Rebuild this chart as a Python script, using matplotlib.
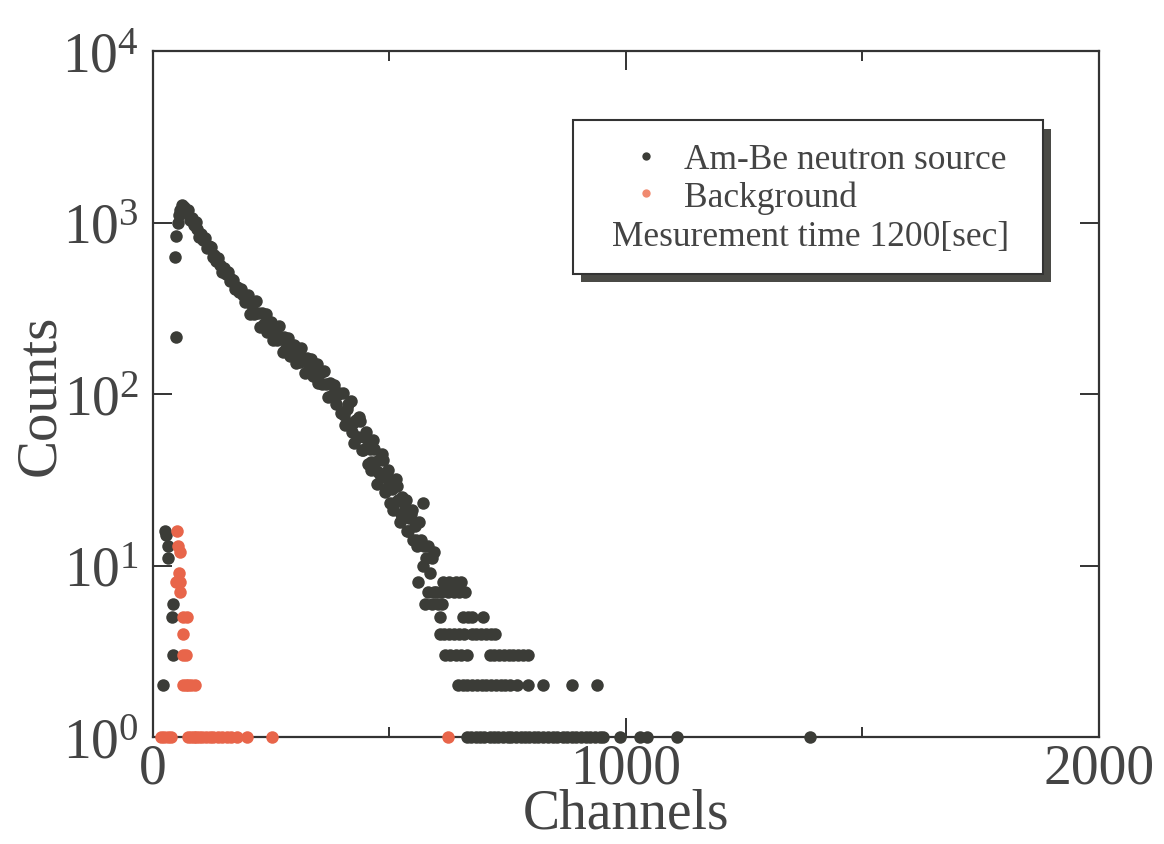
import matplotlib
matplotlib.use("Agg")
import matplotlib.pyplot as plt
import numpy as np
from matplotlib.patches import Rectangle
from matplotlib.lines import Line2D
from matplotlib.ticker import FixedLocator, NullLocator, LogFormatterMathtext

# Am-Be neutron source spectrum (channel, counts)
ambe_ch = [21, 25, 28, 32, 32, 40, 42, 42, 47, 48, 48, 52, 55, 58, 62, 64, 66, 70,
           74, 78, 82, 86, 90, 94, 98, 102, 106, 110, 114, 118, 122, 126, 130, 134,
           138, 142, 146, 150, 154, 158, 162, 166, 170, 174, 178, 182, 186, 190, 194,
           198, 202, 206, 210, 214, 218, 222, 226, 230, 234, 238, 242, 246, 250, 254,
           258, 262, 266, 270, 274, 278, 282, 286, 290, 294, 298, 302, 306, 310, 314,
           318, 322, 326, 330, 334, 338, 342, 346, 350, 354, 358, 362, 366, 370, 374,
           378, 382, 386, 390, 394, 398, 402, 406, 410, 414, 418, 422, 426, 430, 434,
           438, 442, 446, 450, 454, 458, 462, 466, 470, 474, 478, 482, 486, 490, 494,
           498, 502, 506, 510, 514, 518, 522, 526, 530, 534, 538, 542, 546, 550, 554,
           558, 562, 566, 570, 571, 574, 578, 582, 586, 590, 594, 598,
           404, 412, 420, 428, 436, 444, 452, 460, 468, 476, 484, 492, 500, 508, 516,
           524, 532, 540, 548, 556]
ambe_counts = [2, 16, 15, 13, 11, 5, 6, 3, 630, 216, 830, 1000, 1100, 1180, 1260, 1150, 1240, 1190,
               1190, 1041, 1057, 970, 1012, 912, 819, 861, 788, 812, 713, 729, 716, 629, 643, 594,
               624, 567, 513, 541, 498, 516, 456, 468, 463, 409, 420, 391, 412, 377, 343,
               363, 376, 292, 332, 291, 348, 295, 246, 297, 257, 293, 230, 257, 264, 206,
               235, 206, 248, 211, 177, 214, 185, 213, 167, 188, 194, 151, 173, 153, 185,
               157, 132, 162, 140, 161, 127, 144, 149, 116, 132, 114, 137, 115, 96, 116,
               99, 113, 88, 99, 101, 78, 102, 66, 82, 68, 91, 68, 52, 71, 56,
               70, 47, 56, 60, 39, 48, 40, 54, 40, 30, 41, 33, 41, 27, 33,
               36, 23, 28, 23, 32, 24, 18, 25, 20, 24, 16, 19, 20, 14, 17,
               13, 18, 14, 10, 23, 13, 11, 13, 9, 11, 12, 7,
               75, 87, 60, 70, 73, 47, 49, 36, 48, 35, 45, 28, 30, 21, 29,
               20, 22, 16, 21, 14]

# tail of the spectrum, low integer counts
tail_ch = [560, 613, 625, 640, 652,
           582, 595, 610, 624, 636, 648, 660,
           576, 590, 603, 612,
           607, 656, 666, 674, 698,
           607, 616, 626, 636, 646, 658, 674, 684, 694, 704, 714, 723,
           617, 628, 640, 652, 663, 712, 722, 732, 742, 752, 762, 772, 782, 793,
           645, 655, 665, 675, 685, 695, 705, 715, 725, 735, 745, 755, 769, 793, 825, 886, 939,
           663, 672, 682, 692, 700, 712, 720, 730, 740, 750, 758, 768, 778, 786, 796, 806,
           815, 825, 835, 845, 855, 866, 876, 886, 895, 905, 915, 925, 935, 945, 951,
           987, 1030, 1044, 1108, 1389]
tail_counts = [8, 8, 8, 8, 8,
               7, 7, 7, 7, 7, 7, 7,
               6, 6, 6, 6,
               5, 5, 5, 5, 5,
               4, 4, 4, 4, 4, 4, 4, 4, 4, 4, 4, 4,
               3, 3, 3, 3, 3, 3, 3, 3, 3, 3, 3, 3, 3, 3,
               2, 2, 2, 2, 2, 2, 2, 2, 2, 2, 2, 2, 2, 2, 2, 2, 2,
               1, 1, 1, 1, 1, 1, 1, 1, 1, 1, 1, 1, 1, 1, 1, 1,
               1, 1, 1, 1, 1, 1, 1, 1, 1, 1, 1, 1, 1, 1, 1,
               1, 1, 1, 1, 1]

# background measurement
bg_ch = [51, 54, 57, 55, 48, 58, 58, 63, 72, 63, 63, 70, 63, 69, 75, 81, 89,
         17, 24, 31, 38, 74, 80, 86, 92, 98, 104, 112, 120, 128, 138, 146, 156, 166,
         178, 199, 252, 624]
bg_counts = [16, 13, 12, 9, 8, 8, 7, 5, 5, 4, 3, 3, 2, 2, 2, 2, 2,
             1, 1, 1, 1, 1, 1, 1, 1, 1, 1, 1, 1, 1, 1, 1, 1, 1,
             1, 1, 1, 1]

x_ticks = [0, 1000, 2000]
x_minor = [500, 1500]

dark = "#3b3c37"
orange = "#e8654a"
txt = "#444444"

plt.rcParams.update({"font.family": "Liberation Serif",
                     "mathtext.fontset": "custom",
                     "mathtext.rm": "Liberation Serif",
                     "mathtext.it": "Liberation Serif:italic",
                     "text.color": txt,
                     "axes.labelcolor": txt,
                     "xtick.color": "#333333",
                     "ytick.color": "#333333",
                     "xtick.labelcolor": txt,
                     "ytick.labelcolor": txt})

fig = plt.figure(figsize=(11.64, 8.45), dpi=100)
ax = fig.add_axes([0.1314, 0.1266, 0.8127, 0.8118])

ax.plot(ambe_ch + tail_ch, ambe_counts + tail_counts, 'o', color=dark, ms=9,
        mec='none', clip_on=False, zorder=3)
ax.plot(bg_ch, bg_counts, 'o', color=orange, ms=9, mec='none', clip_on=False, zorder=4)

ax.set_yscale('log')
ax.set_xlim(0, 2000)
ax.set_ylim(1, 1e4)
ax.xaxis.set_major_locator(FixedLocator(x_ticks))
ax.xaxis.set_minor_locator(FixedLocator(x_minor))
ax.yaxis.set_major_locator(FixedLocator([1, 10, 100, 1000, 10000]))
ax.yaxis.set_major_formatter(LogFormatterMathtext())
ax.yaxis.set_minor_locator(NullLocator())

ax.tick_params(which='both', direction='in', top=True, right=True, width=1.4)
ax.tick_params(which='major', length=14, labelsize=40, pad=4)
ax.tick_params(which='minor', length=7)
ax.tick_params(axis='y', pad=10)
for s in ax.spines.values():
    s.set_linewidth(1.6)
    s.set_color("#333333")

ax.set_xlabel('Channels', fontsize=40, labelpad=-5)
ax.set_ylabel('Counts', fontsize=41, labelpad=-3)

# legend box with shadow
shadow = Rectangle((0.4525, 0.663), 0.497, 0.224, transform=ax.transAxes,
                   fc='#4a4a46', ec='none', zorder=5)
box = Rectangle((0.444, 0.675), 0.497, 0.224, transform=ax.transAxes,
                fc='white', ec='#333333', lw=1.5, zorder=6)
ax.add_patch(shadow)
ax.add_patch(box)

handles = [Line2D([], [], ls='none', marker='o', color=dark, ms=6, mec='none'),
           Line2D([], [], ls='none', marker='o', color='#f08a70', ms=6, mec='none')]
leg = ax.legend(handles, ['Am-Be neutron source', 'Background'], loc='upper left',
                bbox_to_anchor=(0.503, 0.866), frameon=False, fontsize=25.5,
                handlelength=1.0, handletextpad=0.55, borderpad=0, borderaxespad=0,
                labelspacing=0.12)
leg.set_zorder(7)
ax.text(0.695, 0.730, 'Mesurement time 1200[sec]', transform=ax.transAxes,
        ha='center', va='center', fontsize=25.5, zorder=7)

fig.savefig("out.png", dpi=100)
